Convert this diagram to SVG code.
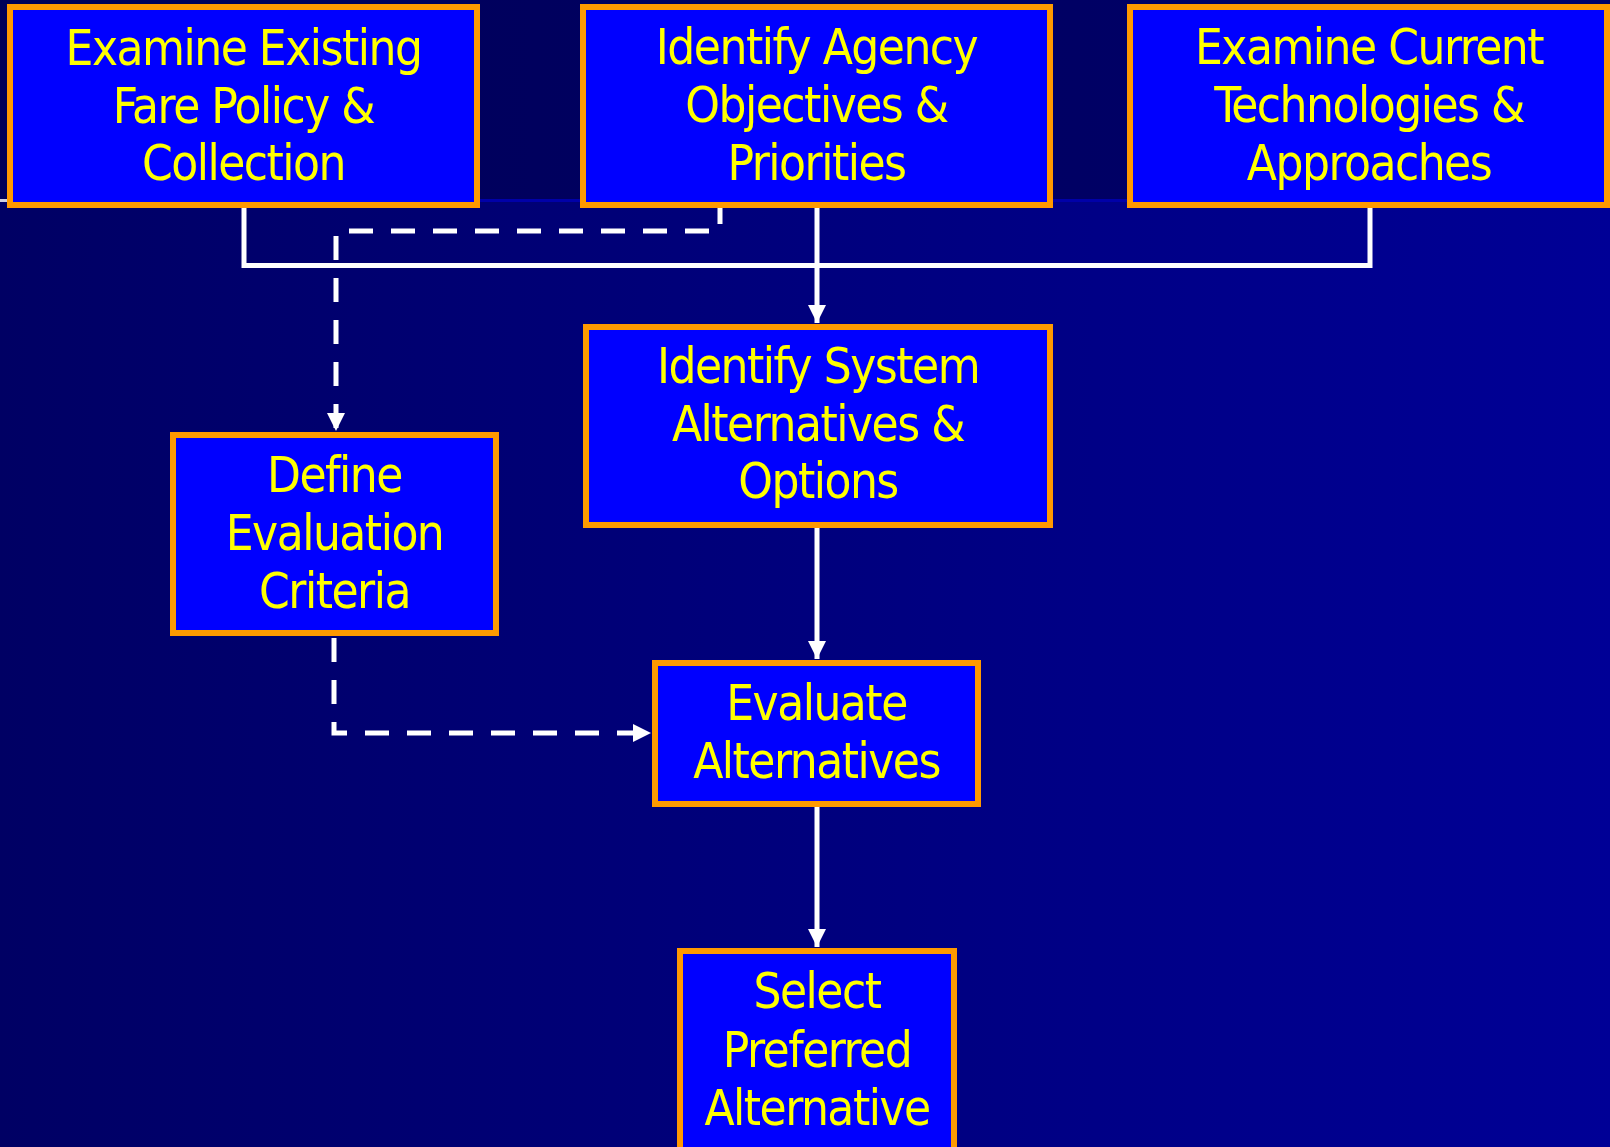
<svg xmlns="http://www.w3.org/2000/svg" width="1610" height="1147" viewBox="0 0 1610 1147">
<style>
.box{fill:#0000FF;stroke:#FF9900;stroke-width:6}
.t{font-family:"DejaVu Sans Condensed","DejaVu Sans",sans-serif;font-stretch:condensed;font-size:49px;letter-spacing:-1.5px;fill:#FFFF00;text-anchor:middle}
.solid{fill:none;stroke:#FFFFFF;stroke-width:5}
.dash{fill:none;stroke:#FFFFFF;stroke-width:5;stroke-dasharray:24 18}
</style>
<defs>
<linearGradient id="bg" x1="0" y1="0" x2="1" y2="0">
<stop offset="0" stop-color="#000064"/>
<stop offset="1" stop-color="#000096"/>
</linearGradient>
<linearGradient id="bgTop" x1="0" y1="0" x2="1" y2="0">
<stop offset="0" stop-color="#000058"/>
<stop offset="1" stop-color="#00006A"/>
</linearGradient>
<marker id="arr" markerWidth="18" markerHeight="18" viewBox="0 0 18 18" refX="18" refY="9" orient="auto" markerUnits="userSpaceOnUse">
<path d="M0,0 L18,9 L0,18 Z" fill="#FFFFFF"/>
</marker>
</defs>
<rect x="0" y="0" width="1610" height="1147" fill="url(#bg)"/>
<rect x="0" y="0" width="1610" height="200" fill="url(#bgTop)"/>
<rect x="0" y="199" width="1610" height="3" fill="#0000A8"/>
<rect x="0" y="199" width="10" height="3" fill="#D0D0E0"/>
<g id="connectors">
<polyline class="solid" points="244,208 244,265.5 1370,265.5 1370,208"/>
<line class="solid" x1="817" y1="208" x2="817" y2="323" marker-end="url(#arr)"/>
<polyline class="dash" points="720,200 720,231 336,231 336,431" marker-end="url(#arr)"/>
<line class="solid" x1="817" y1="528" x2="817" y2="659" marker-end="url(#arr)"/>
<polyline class="dash" points="334,638 334,733 651,733" marker-end="url(#arr)"/>
<line class="solid" x1="817" y1="807" x2="817" y2="947" marker-end="url(#arr)"/>
</g>
<g id="n1">
<rect class="box" x="10" y="7" width="467" height="198"/>
<text class="t" x="243.5" y="65">Examine Existing</text>
<text class="t" x="243.5" y="123">Fare Policy &amp;</text>
<text class="t" x="243.5" y="180">Collection</text>
</g>
<g id="n2">
<rect class="box" x="583" y="7" width="467" height="198"/>
<text class="t" x="816.5" y="64">Identify Agency</text>
<text class="t" x="816.5" y="122">Objectives &amp;</text>
<text class="t" x="816.5" y="180">Priorities</text>
</g>
<g id="n3">
<rect class="box" x="1130" y="7" width="477" height="198"/>
<text class="t" x="1369" y="64">Examine Current</text>
<text class="t" x="1369" y="122">Technologies &amp;</text>
<text class="t" x="1369" y="180">Approaches</text>
</g>
<g id="n4">
<rect class="box" x="586" y="327" width="464" height="198"/>
<text class="t" x="818" y="383">Identify System</text>
<text class="t" x="818" y="441">Alternatives &amp;</text>
<text class="t" x="818" y="498">Options</text>
</g>
<g id="n5">
<rect class="box" x="173" y="435" width="323" height="198"/>
<text class="t" x="334.5" y="492">Define</text>
<text class="t" x="334.5" y="550">Evaluation</text>
<text class="t" x="334.5" y="608">Criteria</text>
</g>
<g id="n6">
<rect class="box" x="655" y="663" width="323" height="141"/>
<text class="t" x="816.5" y="720">Evaluate</text>
<text class="t" x="816.5" y="778">Alternatives</text>
</g>
<g id="n7">
<rect class="box" x="680" y="951" width="274" height="200"/>
<text class="t" x="817" y="1008">Select</text>
<text class="t" x="817" y="1067">Preferred</text>
<text class="t" x="817" y="1125">Alternative</text>
</g>
</svg>
